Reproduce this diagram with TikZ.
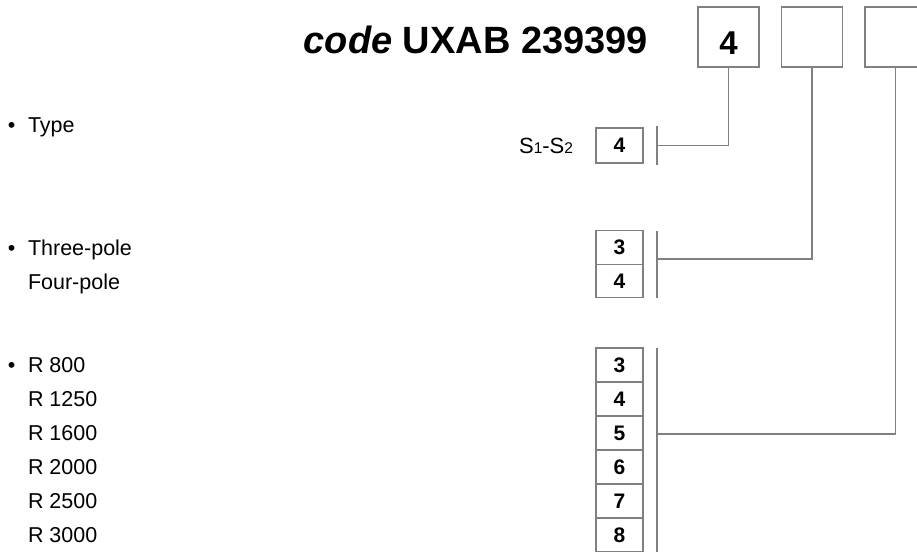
\documentclass[tikz,border=0pt]{standalone}
\usepackage{fontspec}
\setmainfont{Liberation Sans}
\definecolor{ln}{RGB}{128,128,128}
\tikzset{
  every node/.style={inner sep=0pt, outer sep=0pt},
  bigbox/.style={draw=ln, line width=1.1pt, minimum width=61pt, minimum height=60pt},
  selbox/.style={draw=ln, line width=1.1pt, minimum width=47pt, minimum height=34pt, font=\fontsize{21}{24}\selectfont\bfseries},
  lbl/.style={anchor=base west, font=\fontsize{21.5}{24}\selectfont},
  bul/.style={anchor=base west, font=\fontsize{21.5}{24}\selectfont},
  conn/.style={draw=ln, line width=1.1pt},
}
\begin{document}
\begin{tikzpicture}[x=1pt, y=-1pt]
\useasboundingbox (0,0) rectangle (917,551);
\clip (0,0) rectangle (917,551);
% title
\node[anchor=base east, font=\fontsize{38}{40}\selectfont\bfseries] (title) at (648,53) {\itshape code\upshape{} UXAB 239399};
% top boxes
\node[bigbox] (b1) at (728.5,37) {};
\node[bigbox] (b2) at (812,37) {};
\node[bigbox] (b3) at (895.5,37) {};
\node[anchor=base, font=\fontsize{33}{36}\selectfont\bfseries] (b1t) at (728.5,55) {4};
% type
\node[bul] (bt) at (8,132) {•};
\node[lbl] (ltype) at (28,132) {Type};
\node[anchor=base east, font=\fontsize{22}{24}\selectfont] (s12) at (573,153) {S{\fontsize{15.5}{16}\selectfont 1}-S{\fontsize{15.5}{16}\selectfont 2}};
\node[selbox, minimum height=35pt] (t4) at (619.5,145.5) {4};
\coordinate (tb1) at (657,126);
\coordinate (tb2) at (657,165);
\coordinate (tj) at (657,145.5);
\draw[conn] (tb1) -- (tb2);
\draw[conn] (b1.south) |- (tj);
% poles
\node[bul] (bp) at (8,255) {•};
\node[lbl] (l3p) at (28,255) {Three-pole};
\node[lbl] (l4p) at (28,289) {Four-pole};
\node[selbox, minimum height=33.5pt] (p3) at (619.5,247.5) {3};
\node[selbox, minimum height=33.5pt] (p4) at (619.5,281) {4};
\coordinate (pb1) at (657,231);
\coordinate (pb2) at (657,298);
\coordinate (pj) at (657,259);
\draw[conn] (pb1) -- (pb2);
\draw[conn] (b2.south) |- (pj);
% ratings
\node[bul] (br) at (8,372.5) {•};
\node[lbl] (lr1) at (28,372.5) {R 800};
\node[lbl] (lr2) at (28,406.5) {R 1250};
\node[lbl] (lr3) at (28,440.5) {R 1600};
\node[lbl] (lr4) at (28,474.5) {R 2000};
\node[lbl] (lr5) at (28,508.5) {R 2500};
\node[lbl] (lr6) at (28,542.5) {R 3000};
\node[selbox] (r3) at (619.5,365) {3};
\node[selbox] (r4) at (619.5,399) {4};
\node[selbox] (r5) at (619.5,433) {5};
\node[selbox] (r6) at (619.5,467) {6};
\node[selbox] (r7) at (619.5,501) {7};
\node[selbox] (r8) at (619.5,535) {8};
\coordinate (rb1) at (657,348);
\coordinate (rb2) at (657,553);
\coordinate (rj) at (657,434);
\draw[conn] (rb1) -- (rb2);
\draw[conn] (b3.south) |- (rj);
\end{tikzpicture}
\end{document}
